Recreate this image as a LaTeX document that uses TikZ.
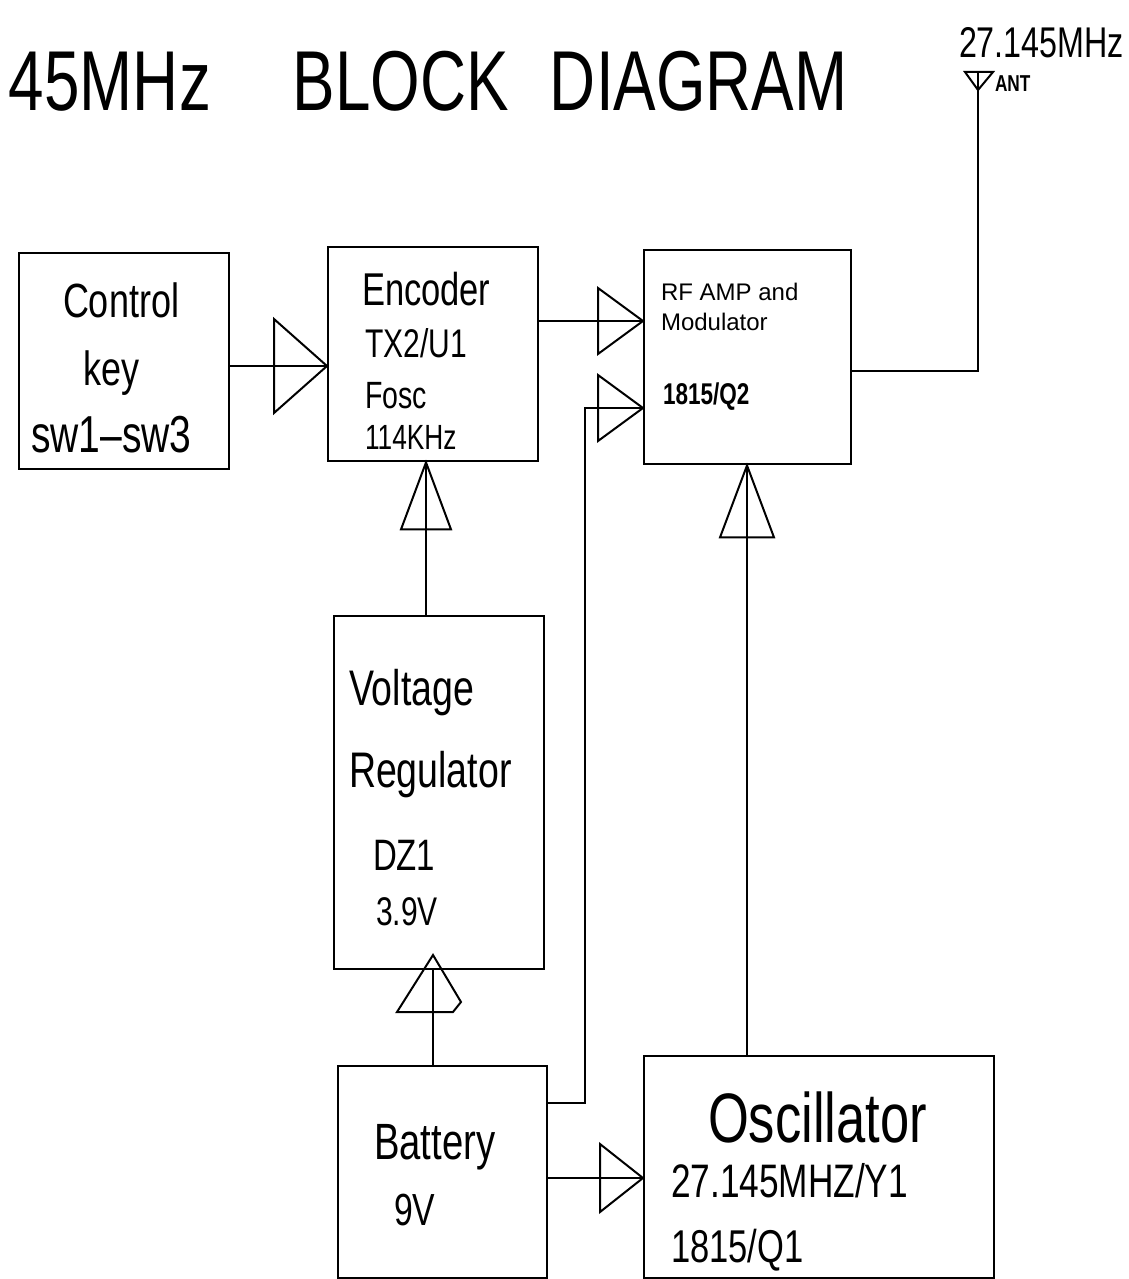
\documentclass[tikz,border=0pt]{standalone}
\usepackage{fontspec}
\setmainfont{Liberation Sans}
\newfontfamily\cadfont{Liberation Sans}[FakeStretch=0.75]
\newcommand\cadsz[1]{\cadfont\fontsize{#1}{#1}\selectfont}
\newcommand\arsz[1]{\fontsize{#1}{#1}\selectfont}

\tikzset{pics/tri/.style 2 args={code={\draw (0,0) -- (-#1,#2) -- (-#1,-#2) -- cycle;}}}

\begin{document}
\begin{tikzpicture}[x=1pt,y=-1pt,line width=2pt,
  blk/.style={draw,line width=2.4pt,rectangle,anchor=north west,inner sep=0},
  lbl/.style={anchor=base west,inner sep=0}]
\useasboundingbox (0,0) rectangle (1129,1279);
% ---------- title and antenna ----------
\node[lbl,font=\cadsz{85}] (title) at (8,111) {45MHz\hspace{82pt}BLOCK\hspace{41pt}DIAGRAM};
\node[lbl,font=\cadsz{43}] (freq) at (958,58) {27.145MHz};
\coordinate (ant) at (978,72);
\draw (965,72) -- (993,72) -- (978,90) -- cycle;
\node[lbl,font=\cadsz{23}\bfseries] (antlbl) at (994,92) {ANT};
% ---------- blocks ----------
\node[blk,minimum width=210,minimum height=216] (ctrl) at (18,252) {};
\node[blk,minimum width=210,minimum height=214] (enc) at (327,246) {};
\node[blk,minimum width=207,minimum height=214] (rf) at (643,249) {};
\node[blk,minimum width=210,minimum height=353] (vreg) at (333,615) {};
\node[blk,minimum width=209,minimum height=212] (batt) at (337,1065) {};
\node[blk,minimum width=350,minimum height=222] (osc) at (643,1055) {};
% ---------- block texts ----------
\node[lbl,font=\cadsz{48}] (ctrl1) at (62,317) {Control};
\node[lbl,font=\cadsz{48}] (ctrl2) at (82,385) {key};
\node[lbl,font=\cadsz{52}] (ctrl3) at (30,452) {sw1\textendash sw3};
\node[lbl,font=\cadsz{46}] (enc1) at (361,305) {Encoder};
\node[lbl,font=\cadsz{40}] (enc2) at (364,357) {TX2/U1};
\node[lbl,font=\cadsz{38}] (enc3) at (364,408) {Fosc};
\node[lbl,font=\cadsz{35}] (enc4) at (364,449) {114KHz};
\node[lbl,font=\arsz{24}] (rf1) at (660,300) {RF AMP and};
\node[lbl,font=\arsz{24}] (rf2) at (660,330) {Modulator};
\node[lbl,font=\cadsz{30}\bfseries] (rf3) at (662,404) {1815/Q2};
\node[lbl,font=\cadsz{50}] (vreg1) at (348,705) {Voltage};
\node[lbl,font=\cadsz{50}] (vreg2) at (348,787) {Regulator};
\node[lbl,font=\cadsz{44}] (vreg3) at (372,870) {DZ1};
\node[lbl,font=\cadsz{40}] (vreg4) at (375,925) {3.9V};
\node[lbl,font=\cadsz{51}] (batt1) at (373,1159) {Battery};
\node[lbl,font=\cadsz{45}] (batt2) at (393,1225) {9V};
\node[lbl,font=\cadsz{70}] (osc1) at (707,1142) {Oscillator};
\node[lbl,font=\cadsz{47}] (osc2) at (670,1197) {27.145MHZ/Y1};
\node[lbl,font=\cadsz{46}] (osc3) at (670,1262) {1815/Q1};
% ---------- connectors ----------
\coordinate (kin) at (enc.west |- 0,366);
\draw (ctrl.east |- kin) -- (kin);
\pic at (kin) {tri={53}{47}};
\coordinate (din) at (rf.west |- 0,321);
\draw (enc.east |- din) -- (din);
\pic at (din) {tri={45}{33}};
\coordinate (pin) at (rf.west |- 0,408);
\coordinate (bend) at (585,408);
\draw (batt.east |- 0,1103) -| (bend) -- (pin);
\pic at (pin) {tri={45}{33}};
\draw (rf.east |- 0,371) -| (ant);
\coordinate (vin) at (enc.south -| 426,0);
\draw (vreg.north -| vin) -- (vin);
\pic[rotate=90] at (vin) {tri={67}{25}};
\coordinate (bin) at (433,955);
\draw (batt.north -| bin) -- (vreg.south -| bin);
\draw (bin) -- ++(-36,57) -- ++(56,0) -- ++(8,-10) -- cycle;
\coordinate (oin) at (osc.west |- 0,1178);
\draw (batt.east |- oin) -- (oin);
\pic at (oin) {tri={43}{34}};
\coordinate (rin) at (rf.south -| 747,0);
\draw (osc.north -| rin) -- (rin);
\pic[rotate=90] at (rin) {tri={72}{27}};
\end{tikzpicture}
\end{document}
